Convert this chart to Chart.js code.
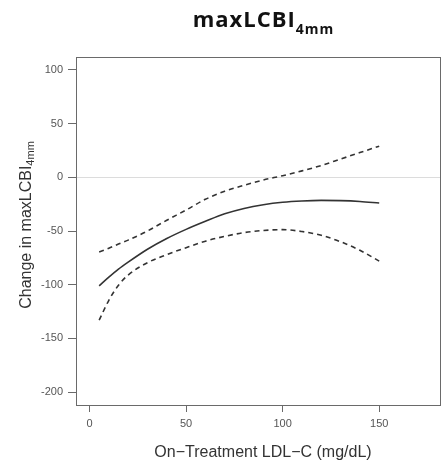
<!DOCTYPE html>
<html>
<head>
<meta charset="utf-8">
<script src="https://cdn.jsdelivr.net/npm/chart.js@4"></script>
<style>
html,body{margin:0;padding:0;background:#fff;}
#wrap{width:443px;height:462px;}
</style>
</head>
<body>
<div id="wrap"><canvas id="c" width="443" height="462"></canvas></div>
<script>
const ldl      = [5, 10, 15, 20, 30, 40, 50, 60, 70, 80, 90, 100, 110, 120, 130, 140, 150];
const estimate = [-101, -93, -85.5, -79, -67, -57, -48.5, -41, -34, -29, -25.5, -23.2, -22, -21.5, -21.7, -22.5, -24];
const upper    = [-69.5, -66, -62.2, -58.5, -50, -40, -30.5, -20.5, -13, -7.5, -2.5, 1.5, 6, 11, 17, 23, 29];
const lower    = [-133, -114.5, -100.5, -91, -79.5, -72, -65.5, -59.5, -55, -51.5, -49.5, -48.7, -50.5, -54, -60, -68, -78];
const xTicks   = [0, 50, 100, 150];
const yTicks   = [-200, -150, -100, -50, 0, 50, 100];
const titleMain = 'maxLCBI';
const titleSub  = '4mm';
const xTitle = 'On\u2212Treatment LDL\u2212C (mg/dL)';
const yTitleMain = 'Change in maxLCBI';
const yTitleSub = '4mm';

const pts = ys => ldl.map((x, i) => ({x: x, y: ys[i]}));

const decor = {
  id: 'decor',
  beforeDatasetsDraw(chart) {
    const {ctx, chartArea: a, scales} = chart;
    const y0 = scales.y.getPixelForValue(0);
    ctx.save();
    ctx.strokeStyle = '#dcdcdc';
    ctx.lineWidth = 1;
    ctx.beginPath();
    ctx.moveTo(a.left, Math.round(y0) + 0.5);
    ctx.lineTo(a.right, Math.round(y0) + 0.5);
    ctx.stroke();
    ctx.restore();
  },
  afterDraw(chart) {
    const {ctx, chartArea: a} = chart;
    ctx.save();
    ctx.strokeStyle = '#6a6a6a';
    ctx.lineWidth = 1;
    ctx.strokeRect(a.left + 0.5, a.top + 0.5, a.right - a.left - 1, a.bottom - a.top);
    // title
    ctx.fillStyle = '#111';
    ctx.textBaseline = 'alphabetic';
    ctx.letterSpacing = '1px';
    ctx.font = 'bold 22px "Open Sans", sans-serif';
    const w1 = ctx.measureText(titleMain).width;
    ctx.font = 'bold 14px "Open Sans", sans-serif';
    const w2 = ctx.measureText(titleSub).width;
    const tx = 263.5 - (w1 + w2) / 2;
    ctx.font = 'bold 22px "Open Sans", sans-serif';
    ctx.textAlign = 'left';
    ctx.fillText(titleMain, tx, 27);
    ctx.font = 'bold 14px "Open Sans", sans-serif';
    ctx.fillText(titleSub, tx + w1, 34);
    ctx.letterSpacing = '0px';
    // x title
    ctx.fillStyle = '#333';
    ctx.font = '16px "Liberation Sans", Arial, sans-serif';
    ctx.textAlign = 'center';
    ctx.fillText(xTitle, 263, 457);
    // y title
    ctx.translate(31, 225);
    ctx.rotate(-Math.PI / 2);
    ctx.font = '16px "Liberation Sans", Arial, sans-serif';
    const v1 = ctx.measureText(yTitleMain).width;
    ctx.font = '11px "Liberation Sans", Arial, sans-serif';
    const v2 = ctx.measureText(yTitleSub).width;
    const vx = -(v1 + v2) / 2;
    ctx.textAlign = 'left';
    ctx.font = '16px "Liberation Sans", Arial, sans-serif';
    ctx.fillText(yTitleMain, vx, 0);
    ctx.font = '11px "Liberation Sans", Arial, sans-serif';
    ctx.fillText(yTitleSub, vx + v1, 3);
    ctx.restore();
  }
};

new Chart(document.getElementById('c'), {
  type: 'scatter',
  data: {
    datasets: [
      {data: pts(estimate), showLine: true, borderColor: '#333', borderWidth: 1.6, pointRadius: 0, cubicInterpolationMode: 'monotone', fill: false},
      {data: pts(upper), showLine: true, borderColor: '#333', borderWidth: 1.6, borderDash: [5, 4], pointRadius: 0, cubicInterpolationMode: 'monotone', fill: false},
      {data: pts(lower), showLine: true, borderColor: '#333', borderWidth: 1.6, borderDash: [5, 4], pointRadius: 0, cubicInterpolationMode: 'monotone', fill: false}
    ]
  },
  options: {
    responsive: false,
    animation: false,
    layout: {padding: {top: 57, right: 2, left: 0, bottom: 0}},
    plugins: {legend: {display: false}, tooltip: {enabled: false}, title: {display: false}},
    scales: {
      x: {
        type: 'linear', min: -7, max: 182,
        afterBuildTicks: s => { s.ticks = xTicks.map(v => ({value: v})); },
        afterFit: s => { s.height = 57; },
        border: {display: false},
        grid: {drawOnChartArea: false, drawTicks: true, tickLength: 7, color: '#6a6a6a'},
        ticks: {color: '#555', font: {size: 11, family: '"Liberation Sans", Arial, sans-serif'}, padding: 5, maxRotation: 0}
      },
      y: {
        type: 'linear', min: -212, max: 112,
        afterBuildTicks: s => { s.ticks = yTicks.map(v => ({value: v})); },
        afterFit: s => { s.width = 76; },
        border: {display: false},
        grid: {drawOnChartArea: false, drawTicks: true, tickLength: 8, color: '#6a6a6a'},
        ticks: {color: '#555', font: {size: 11, family: '"Liberation Sans", Arial, sans-serif'}, padding: 5}
      }
    }
  },
  plugins: [decor]
});
</script>
</body>
</html>
